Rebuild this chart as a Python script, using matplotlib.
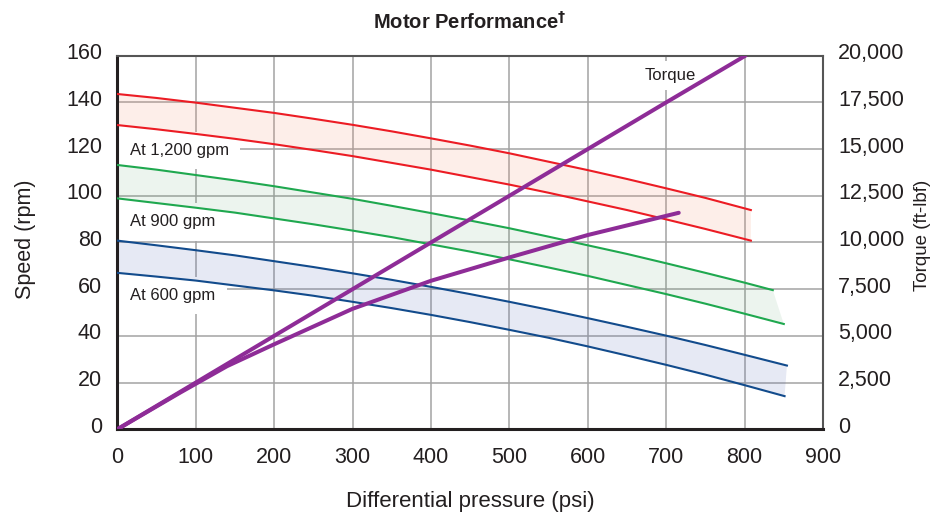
import matplotlib
matplotlib.use("Agg")
import matplotlib.pyplot as plt
from matplotlib.ticker import FuncFormatter
from matplotlib.transforms import ScaledTranslation

plt.rcParams['font.family'] = ['Liberation Sans', 'DejaVu Sans']

# ---- data (psi -> rpm, torque in ft-lbf) ----
x_50 = [0, 50, 100, 150, 200, 250, 300, 350, 400, 450, 500, 550, 600, 650, 700, 750]

red_hi_x = x_50 + [808]
red_hi_y = [143.6, 141.9, 139.9, 137.7, 135.5, 133.0, 130.4, 127.6, 124.6, 121.5,
            118.2, 114.6, 111.0, 107.2, 103.2, 99.1, 93.9]
red_lo_x = x_50 + [808]
red_lo_y = [130.3, 128.5, 126.5, 124.4, 122.1, 119.6, 117.0, 114.1, 111.2, 108.0,
            104.8, 101.3, 97.6, 93.9, 89.9, 85.8, 80.8]

grn_hi_x = x_50 + [800, 836]
grn_hi_y = [113.2, 111.2, 108.9, 106.6, 104.1, 101.4, 98.7, 95.7, 92.6, 89.4,
            86.1, 82.5, 78.8, 75.1, 71.1, 67.0, 62.8, 59.6]
grn_lo_x = x_50 + [800, 850]
grn_lo_y = [98.9, 96.9, 94.9, 92.8, 90.3, 87.8, 85.1, 82.3, 79.2, 76.1,
            72.8, 69.3, 65.7, 61.8, 57.9, 53.8, 49.5, 45.1]

blu_hi_x = x_50 + [800, 854]
blu_hi_y = [80.8, 78.8, 76.7, 74.5, 72.0, 69.5, 66.8, 64.0, 61.0, 57.9,
            54.6, 51.2, 47.6, 43.9, 40.1, 36.1, 31.9, 27.3]
blu_lo_x = x_50 + [800, 851]
blu_lo_y = [67.0, 65.4, 63.7, 61.6, 59.5, 57.2, 54.6, 51.9, 49.0, 45.9,
            42.6, 39.2, 35.5, 31.6, 27.6, 23.4, 18.9, 14.2]

torque_x = [0, 100, 400, 700, 801]
torque_y = [0, 2500, 10000, 17500, 20000]
torque2_x = [0, 80, 140, 200, 300, 400, 500, 600, 716]
torque2_y = [0, 1960, 3380, 4550, 6450, 7950, 9200, 10400, 11590]

x_ticks = list(range(0, 901, 100))
y_ticks = list(range(0, 161, 20))
y2_ticks = list(range(0, 20001, 2500))

bands = [
    (red_hi_x, red_hi_y, red_lo_x, red_lo_y, "#ec1c24", "#f28e6c", 0.15, "At 1,200 gpm", 119.4),
    (grn_hi_x, grn_hi_y, grn_lo_x, grn_lo_y, "#1fa84f", "#4b9b5f", 0.10, "At 900 gpm", 88.8),
    (blu_hi_x, blu_hi_y, blu_lo_x, blu_lo_y, "#124b8c", "#586cb6", 0.15, "At 600 gpm", 57.3),
]
INK = "#231f20"
PURPLE = "#8e2c97"

fig = plt.figure(figsize=(9.35, 5.18), dpi=100)
ax = fig.add_axes([117.3 / 935, 1 - 429.3 / 518, 705.7 / 935, 373.6 / 518])
ax.set_xlim(0, 900)
ax.set_ylim(0, 160)
ax.set_xticks(x_ticks)
ax.set_yticks(y_ticks)
ax.set_axisbelow(True)
ax.grid(True, color="#a3a3a3", lw=1.1)
ax.tick_params(axis="y", length=0, labelsize=15.5, colors=INK, pad=11)
ax.tick_params(axis="x", length=0, labelsize=15.5, colors=INK, pad=13)

# white label panels sit under the translucent bands, hiding the grid there
for hx, hy, lx, ly, col, fill, alpha, label, ly_lab in bands:
    ax.fill(list(hx) + lx[::-1], list(hy) + ly[::-1], color=fill, alpha=alpha, lw=0, zorder=2)
    ax.plot(hx, hy, color=col, lw=1.5, zorder=3)
    ax.plot(lx, ly, color=col, lw=1.5, zorder=3)
    ax.text(16.4, ly_lab, label, fontsize=12, color=INK, va="center", ha="left",
            zorder=1, bbox=dict(facecolor="white", edgecolor="none", pad=8))

ax.text(705, 151.5, "Torque", fontsize=12, color=INK, va="center", ha="center",
        zorder=1, bbox=dict(facecolor="white", edgecolor="none", pad=5))

for side in ["left", "bottom"]:
    ax.spines[side].set_color(INK)
    ax.spines[side].set_linewidth(2.2)
for side in ["top", "right"]:
    ax.spines[side].set_color("#555555")
    ax.spines[side].set_linewidth(1.5)

ax.set_xlabel("Differential pressure (psi)", fontsize=16, color=INK)
ax.xaxis.set_label_coords(0.5, -0.165)
ax.set_ylabel("Speed (rpm)", fontsize=15.5, color=INK)
ax.yaxis.set_label_coords(-0.115, 0.51)

ax2 = ax.twinx()
ax2.set_ylim(0, 20000)
ax2.set_yticks(y2_ticks)
ax2.yaxis.set_major_formatter(FuncFormatter(lambda v, p: f"{int(v):,}"))
ax2.tick_params(length=0, labelsize=15.5, colors=INK, pad=11)
for s in ax2.spines.values():
    s.set_visible(False)
ax2.plot(torque_x, torque_y, color=PURPLE, lw=2.9, solid_capstyle="round")
ax2.plot(torque2_x, torque2_y, color=PURPLE, lw=2.9, solid_capstyle="round")
ax2.set_ylabel("Torque (ft-lbf)", fontsize=13.5, color=INK)
ax2.yaxis.set_label_coords(1.1295, 0.52)

# the reference prints the y tick numbers slightly above their grid lines
lift = ScaledTranslation(0, 0.045, fig.dpi_scale_trans)
for t in ax.yaxis.get_major_ticks():
    t.label1.set_transform(t.label1.get_transform() + lift)
for t in ax2.yaxis.get_major_ticks():
    t.label2.set_transform(t.label2.get_transform() + lift)

fig.text(0.502, 0.9575, r"Motor Performance$^\mathbf{\dagger}$", fontsize=14.5, fontweight="bold",
         color=INK, ha="center", va="center")

fig.savefig("out.png", dpi=100)
